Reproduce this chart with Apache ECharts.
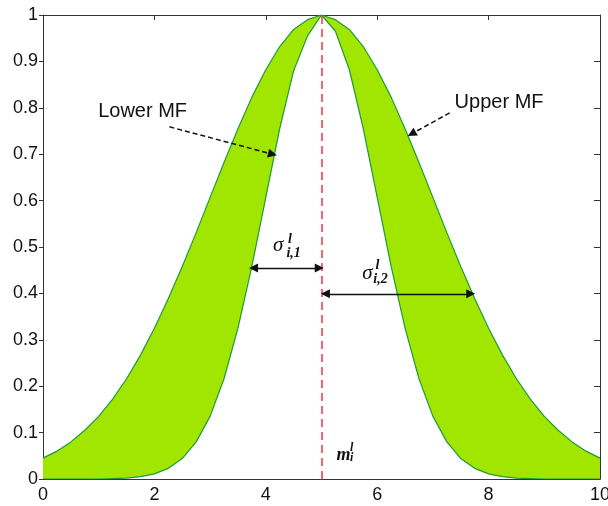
<!DOCTYPE html>
<html>
<head>
<meta charset="utf-8">
<script src="https://cdn.jsdelivr.net/npm/echarts@6/dist/echarts.min.js"></script>
<style>
  html, body { margin: 0; padding: 0; background: #fff; }
  #chart { width: 608px; height: 506px; }
</style>
</head>
<body>
<div id="chart"></div>
<script>
const xs = [0, 0.25, 0.5, 0.75, 1, 1.25, 1.5, 1.75, 2, 2.25, 2.5, 2.75, 3, 3.25, 3.5, 3.75, 4, 4.25, 4.5, 4.75,
            5, 5.25, 5.5, 5.75, 6, 6.25, 6.5, 6.75, 7, 7.25, 7.5, 7.75, 8, 8.25, 8.5, 8.75, 9, 9.25, 9.5, 9.75, 10];
const upperMF = [0.045, 0.06, 0.08, 0.105, 0.135, 0.172, 0.216, 0.267, 0.325, 0.389, 0.458, 0.531, 0.607, 0.682, 0.755, 0.823, 0.882, 0.932, 0.969, 0.99,
                 1, 0.99, 0.969, 0.932, 0.882, 0.823, 0.755, 0.682, 0.607, 0.531, 0.458, 0.389, 0.325, 0.267, 0.216, 0.172, 0.135, 0.105, 0.08, 0.06, 0.045];
const lowerMF = [0, 0, 0, 0, 0, 0.001, 0.002, 0.005, 0.011, 0.023, 0.044, 0.08, 0.135, 0.216, 0.325, 0.458, 0.607, 0.755, 0.88, 0.955,
                 1, 0.965, 0.882, 0.755, 0.607, 0.458, 0.325, 0.216, 0.135, 0.08, 0.044, 0.023, 0.011, 0.005, 0.002, 0.001, 0, 0, 0, 0, 0];
const centre = 5;

const FILL = '#a0e600';
const EDGE = '#1f9a3c';
const AXIS = '#333';
const SANS = '"Liberation Sans", Arial, sans-serif';
const SERIF = '"Liberation Serif", "Times New Roman", serif';

const chart = echarts.init(document.getElementById('chart'));

function axisBase(extra) {
  return Object.assign({
    type: 'value',
    axisLine: { show: true, onZero: false, lineStyle: { color: AXIS, width: 1 } },
    axisTick: { show: true, inside: true, length: 5, lineStyle: { color: AXIS } },
    axisLabel: { show: false },
    splitLine: { show: false }
  }, extra);
}

chart.setOption({
  animation: false,
  grid: { left: 43, right: 8, top: 15, bottom: 27, outerBoundsMode: 'none', containLabel: false },
  xAxis: [
    axisBase({
      position: 'bottom', min: 0, max: 10, interval: 2,
      axisLabel: { show: true, color: '#111', fontSize: 18, fontFamily: SANS, margin: 7 }
    }),
    axisBase({ position: 'top', min: 0, max: 10, interval: 2 })
  ],
  yAxis: [
    axisBase({
      position: 'left', min: 0, max: 1, interval: 0.1,
      axisTick: { show: true, inside: false, length: 4, lineStyle: { color: AXIS } },
      axisLabel: { show: true, color: '#111', fontSize: 18, fontFamily: SANS, margin: 5 }
    }),
    axisBase({ position: 'right', min: 0, max: 1, interval: 0.1,
      axisTick: { show: true, inside: true, length: 6, lineStyle: { color: AXIS } } })
  ],
  series: [
    {
      // footprint of uncertainty: fill under the upper MF ...
      name: 'Upper MF',
      type: 'line',
      data: xs.map((x, i) => [x, upperMF[i]]),
      symbol: 'none',
      lineStyle: { color: EDGE, width: 1.2 },
      areaStyle: { color: FILL, opacity: 1, origin: 'start' },
      z: 2
    },
    {
      // ... then blank out everything under the lower MF
      name: 'Lower MF',
      type: 'line',
      data: xs.map((x, i) => [x, lowerMF[i]]),
      symbol: 'none',
      lineStyle: { color: EDGE, width: 1.2 },
      areaStyle: { color: '#fff', opacity: 1, origin: 'start' },
      z: 3
    },
    {
      name: 'mean',
      type: 'line',
      data: [],
      z: 10,
      markLine: {
        silent: true, symbol: 'none', label: { show: false }, z: 10,
        lineStyle: { color: '#f5303f', type: [8, 5], width: 1.5 },
        data: [{ xAxis: centre }]
      }
    },
    {
      name: 'pointers',
      type: 'line',
      data: [],
      z: 10,
      markLine: {
        silent: true, label: { show: false }, z: 10,
        symbol: ['none', 'triangle'], symbolSize: 9,
        lineStyle: { color: '#111', type: [5, 3], width: 1.5 },
        data: [
          [{ coord: [2.27, 0.759] }, { coord: [4.12, 0.70] }],
          [{ coord: [7.30, 0.789] }, { coord: [6.62, 0.744] }]
        ]
      }
    },
    {
      name: 'spreads',
      type: 'line',
      data: [],
      z: 10,
      markLine: {
        silent: true, label: { show: false }, z: 10,
        symbol: ['triangle', 'triangle'], symbolSize: 9,
        lineStyle: { color: '#111', type: 'solid', width: 1.3 },
        data: [
          [{ coord: [3.78, 0.455] }, { coord: [4.96, 0.455] }],
          [{ coord: [5.07, 0.399] }, { coord: [7.68, 0.399] }]
        ]
      }
    }
  ]
});

// text annotations, anchored in data coordinates (left edge, vertical middle)
const notes = [
  { text: 'Lower MF', at: [0.99, 0.791], font: '20px ' + SANS },
  { text: 'Upper MF', at: [7.39, 0.812], font: '20px ' + SANS },
  { text: 'σ', at: [4.13, 0.503], font: 'italic 21px ' + SERIF },
  { text: 'l', at: [4.40, 0.516], font: 'italic bold 14px ' + SERIF },
  { text: 'i,1', at: [4.37, 0.486], font: 'italic bold 14px ' + SERIF },
  { text: 'σ', at: [5.73, 0.442], font: 'italic 21px ' + SERIF },
  { text: 'l', at: [5.97, 0.460], font: 'italic bold 14px ' + SERIF },
  { text: 'i,2', at: [5.93, 0.431], font: 'italic bold 14px ' + SERIF },
  { text: 'm', at: [5.27, 0.051], font: 'italic bold 18px ' + SERIF },
  { text: 'l', at: [5.51, 0.067], font: 'italic bold 12px ' + SERIF },
  { text: 'i', at: [5.51, 0.045], font: 'italic bold 12px ' + SERIF }
];

chart.setOption({
  graphic: notes.map(n => {
    const p = chart.convertToPixel({ gridIndex: 0 }, n.at);
    return {
      type: 'text', x: p[0], y: p[1], z: 100, silent: true,
      style: {
        text: n.text, font: n.font, fill: '#111',
        align: 'left', verticalAlign: 'middle',
        textAlign: 'left', textVerticalAlign: 'middle'
      }
    };
  })
});
</script>
</body>
</html>
